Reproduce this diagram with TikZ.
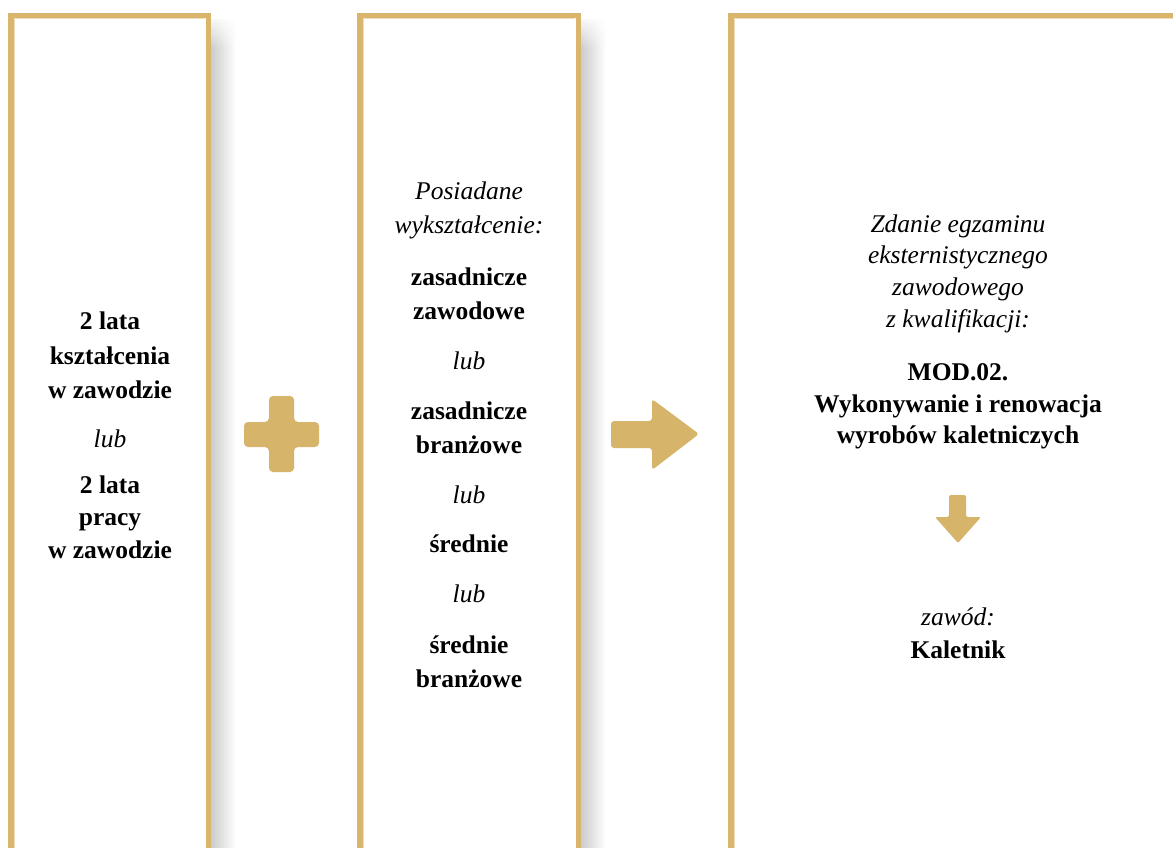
\documentclass[tikz,border=0pt]{standalone}
\usepackage{fontspec}
\usetikzlibrary{fadings}
\setmainfont{Liberation Serif}
\definecolor{gold}{HTML}{D9B66C}
\definecolor{goldfill}{HTML}{D6B46A}
\tikzset{
  frame/.style={draw=gold, line width=5.5pt},
  innerline/.style={draw=gold!45, line width=0.8pt},
  shadowstrip/.style={left color=black!20, right color=white},
  topfade/.style={fill=white, path fading=south},
  bl/.style={anchor=base, font=\fontsize{25.5}{34}\selectfont\bfseries, inner sep=0pt},
  it/.style={anchor=base, font=\fontsize{25.5}{34}\selectfont\itshape, inner sep=0pt},
  sign/.style={fill=goldfill, draw=none}
}
\begin{document}
\begin{tikzpicture}[x=1pt,y=-1pt]
\useasboundingbox (0,0) rectangle (1173,848);
\clip (0,0) rectangle (1173,848);
\fill[white] (0,0) rectangle (1173,848);
% shadows
\shade[shadowstrip] (211,20) rectangle (236,860);
\shade[shadowstrip] (581,20) rectangle (606,860);
\fill[topfade] (211,14) rectangle (240,48);
\fill[topfade] (581,14) rectangle (610,48);
% frames
\draw[frame] (10.75,880) -- (10.75,15.75) -- (208.25,15.75) -- (208.25,880);
\draw[frame] (359.75,880) -- (359.75,15.75) -- (578.25,15.75) -- (578.25,880);
\draw[frame] (730.75,880) -- (730.75,15.75) -- (1200,15.75);
\draw[innerline] (13.9,880) -- (13.9,18.9) -- (205.1,18.9);
\draw[innerline] (362.9,880) -- (362.9,18.9) -- (575.1,18.9);
\draw[innerline] (733.9,880) -- (733.9,18.9) -- (1200,18.9);
% plus
\fill[sign, rounded corners=4pt] (269,396) -- (294,396) -- (294,422) -- (319,422) -- (319,447) -- (294,447) -- (294,472) -- (269,472) -- (269,447) -- (244,447) -- (244,422) -- (269,422) -- cycle;
% right arrow
\fill[sign, rounded corners=3pt] (611,421) -- (652,421) -- (652,399) -- (699,434) -- (652,470) -- (652,448) -- (611,448) -- cycle;
% down arrow
\fill[sign, rounded corners=2pt] (949,495) -- (966,495) -- (966,517) -- (981,517) -- (958,543) -- (935,517) -- (949,517) -- cycle;
% column 1
\node[bl] (a1) at (110,329) {2 lata};
\node[bl] (a2) at (110,364) {kształcenia};
\node[bl] (a3) at (110,398) {w zawodzie};
\node[it] (a4) at (110,447) {lub};
\node[bl] (a5) at (110,493) {2 lata};
\node[bl] (a6) at (110,525) {pracy};
\node[bl] (a7) at (110,558) {w zawodzie};
% column 2
\node[it] (b1) at (469,199) {Posiadane};
\node[it] (b2) at (469,233) {wykształcenie:};
\node[bl] (b3) at (469,285) {zasadnicze};
\node[bl] (b4) at (469,319) {zawodowe};
\node[it] (b5) at (469,369) {lub};
\node[bl] (b6) at (469,419) {zasadnicze};
\node[bl] (b7) at (469,453) {branżowe};
\node[it] (b8) at (469,503) {lub};
\node[bl] (b9) at (469,552) {średnie};
\node[it] (b10) at (469,602) {lub};
\node[bl] (b11) at (469,653) {średnie};
\node[bl] (b12) at (469,687) {branżowe};
% column 3
\node[it] (c1) at (958,232) {Zdanie egzaminu};
\node[it] (c2) at (958,263) {eksternistycznego};
\node[it] (c3) at (958,295) {zawodowego};
\node[it] (c4) at (958,327) {z kwalifikacji:};
\node[bl] (c5) at (958,380) {MOD.02.};
\node[bl] (c6) at (958,412) {Wykonywanie i renowacja};
\node[bl] (c7) at (958,443) {wyrobów kaletniczych};
\node[it] (c8) at (958,625) {zawód:};
\node[bl] (c9) at (958,658) {Kaletnik};
\end{tikzpicture}
\end{document}
